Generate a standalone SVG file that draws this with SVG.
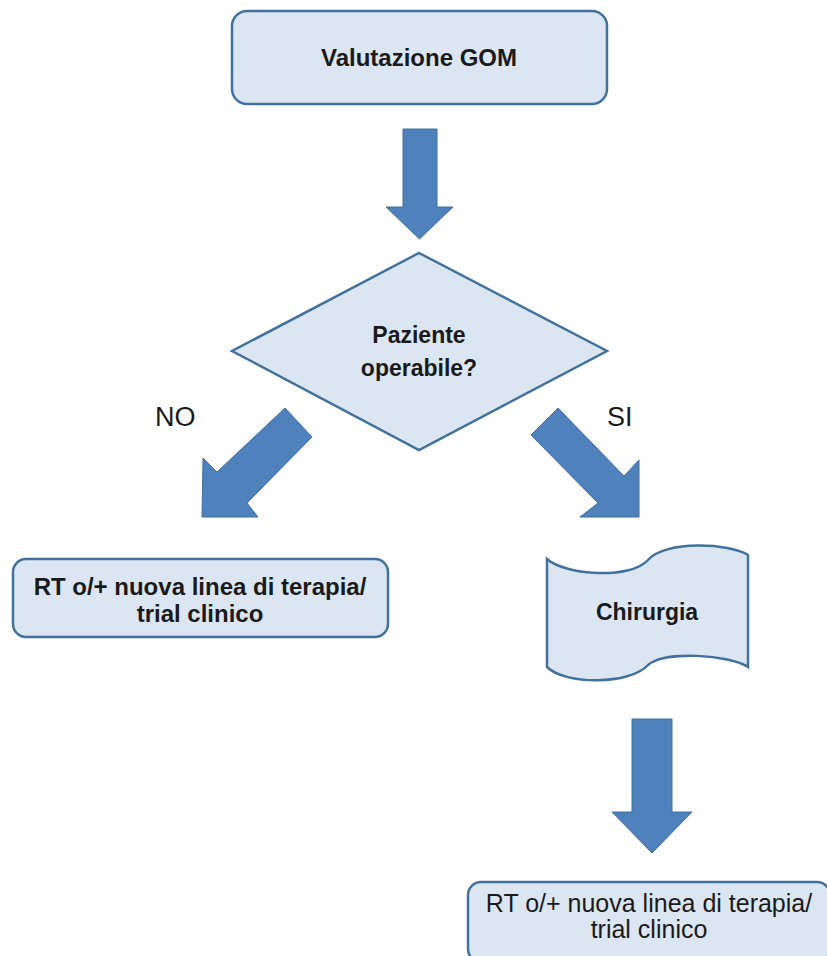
<svg xmlns="http://www.w3.org/2000/svg" width="827" height="956" viewBox="0 0 827 956">
<style>
.node{fill:#dce6f2;stroke:#41719c;stroke-width:2.5}
.arrow{fill:#4f81bd;stroke:#41719c;stroke-width:1}
.t{font-family:"Liberation Sans",Arial,sans-serif;font-weight:bold;font-size:23px;fill:#1a1a1a;text-anchor:middle}
.tb{font-size:24px}
.r{font-family:"Liberation Sans",Arial,sans-serif;font-size:25px;fill:#1a1a1a;text-anchor:middle}
.lbl{font-family:"Liberation Sans",Arial,sans-serif;font-size:27px;fill:#1a1a1a}
</style>
<rect width="827" height="956" fill="#ffffff"/>
<g id="valutazione">
<rect class="node" x="232" y="11" width="375" height="93" rx="15"/>
<text class="t tb" x="419" y="66">Valutazione GOM</text>
</g>
<g id="decisione">
<polygon class="node" points="419,253 607,351 419,450 232,351" stroke-width="2"/>
<text class="t" x="419" y="343">Paziente</text>
<text class="t" x="419" y="376">operabile?</text>
</g>
<g id="rt-no">
<rect class="node" x="13" y="559" width="375" height="78" rx="13"/>
<text class="t tb" x="200" y="595">RT o/+ nuova linea di terapia/</text>
<text class="t tb" x="200" y="622">trial clinico</text>
</g>
<g id="chirurgia">
<path class="node" d="M547,559 C565,575 630,580 648,560 C665,540 730,543 748,555 L748,667 C730,655 665,650 648,665 C630,685 565,685 547,667 Z"/>
<text class="t" x="647" y="620">Chirurgia</text>
</g>
<g id="rt-si">
<rect class="node" x="468" y="882" width="362" height="80" rx="13"/>
<text class="r" x="649" y="912">RT o/+ nuova linea di terapia/</text>
<text class="r" x="649" y="938">trial clinico</text>
</g>
<g id="connectors">
<polygon class="arrow" points="403,129 437,129 437,207 453,207 419.5,239 386,207 403,207"/>
<polygon class="arrow" points="285,408 312,437 247,503 258,517 202,517 203,458 217,472"/>
<polygon class="arrow" points="558,408 531,435 598,503 580,517 639,517 639,460 624,476"/>
<polygon class="arrow" points="632,719 672,719 672,812 692,812 652,853 612,812 632,812"/>
<text class="lbl" x="155" y="426">NO</text>
<text class="lbl" x="607" y="426">SI</text>
</g>
</svg>
